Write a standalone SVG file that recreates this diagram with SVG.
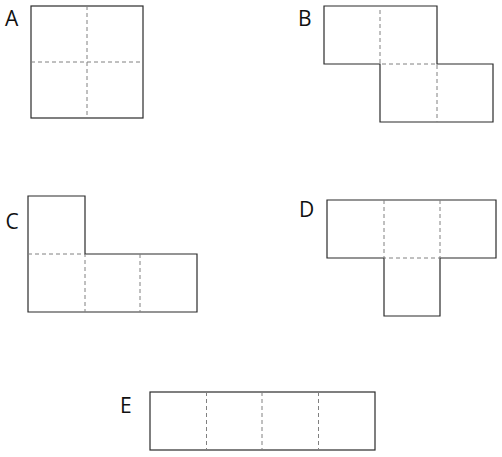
<svg xmlns="http://www.w3.org/2000/svg" width="502" height="457" viewBox="0 0 502 457">
<style>
.s{fill:none;stroke:#2b2b2b;stroke-width:1.2}
.d{fill:none;stroke:#808080;stroke-width:1;stroke-dasharray:4 3}
.t{font-family:"Open Sans","Noto Sans",sans-serif;font-size:21px;fill:#111}
</style>
<rect width="502" height="457" fill="#fff"/>
<g id="A">
<text class="t" x="5" y="26">A</text>
<rect class="s" x="31" y="6" width="112" height="112"/>
<path class="d" d="M87 6V118M31 62H143"/>
</g>
<g id="B">
<text class="t" x="298" y="26">B</text>
<path class="s" d="M324 6H437V64H493V122H380V64H324Z"/>
<path class="d" d="M380 10V64H437V122"/>
</g>
<g id="C">
<text class="t" x="5.5" y="229">C</text>
<path class="s" d="M28 196H85V254H197V312H28Z"/>
<path class="d" d="M28 254H85V312M140 254V312"/>
</g>
<g id="D">
<text class="t" x="299" y="217">D</text>
<path class="s" d="M327 200H496V258H440V316H384V258H327Z"/>
<path class="d" d="M384 200V258H440V200"/>
</g>
<g id="E">
<text class="t" x="120" y="413">E</text>
<rect class="s" x="150" y="392" width="225" height="58"/>
<path class="d" d="M206.5 392V450M262 392V450M318.5 392V450"/>
</g>
</svg>
